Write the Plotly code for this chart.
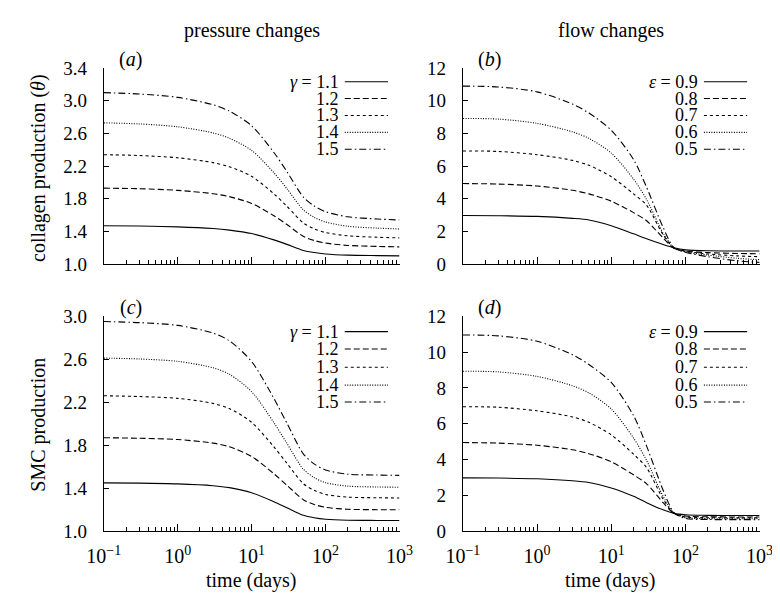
import plotly.graph_objects as go

W, H = 780, 598
FONT = "Liberation Serif"

# ---------------- data ----------------
time_days = [0.1, 0.3, 1, 3, 5, 10, 20, 30, 50, 70, 100, 200, 500, 1000]

gamma_labels = ["1.1", "1.2", "1.3", "1.4", "1.5"]
eps_labels = ["0.9", "0.8", "0.7", "0.6", "0.5"]

# (a) collagen production, pressure changes
coll_g11 = [1.47, 1.466, 1.456, 1.435, 1.416, 1.374, 1.296, 1.241, 1.167, 1.141, 1.124, 1.109, 1.103, 1.10]
coll_g12 = [1.93, 1.923, 1.903, 1.862, 1.826, 1.743, 1.592, 1.484, 1.340, 1.289, 1.257, 1.228, 1.216, 1.21]
coll_g13 = [2.34, 2.33, 2.302, 2.243, 2.192, 2.075, 1.861, 1.708, 1.504, 1.432, 1.386, 1.346, 1.328, 1.32]
coll_g14 = [2.73, 2.717, 2.682, 2.607, 2.542, 2.392, 2.119, 1.924, 1.664, 1.573, 1.515, 1.463, 1.44, 1.43]
coll_g15 = [3.10, 3.084, 3.042, 2.952, 2.874, 2.694, 2.367, 2.133, 1.821, 1.712, 1.641, 1.579, 1.552, 1.54]

# (b) collagen production, flow changes
coll_e09 = [2.97, 2.96, 2.92, 2.8, 2.7, 2.35, 1.85, 1.55, 1.2, 1.0, 0.87, 0.81, 0.8, 0.8]
coll_e08 = [4.93, 4.9, 4.78, 4.52, 4.3, 3.85, 3.15, 2.65, 1.6, 0.97, 0.8, 0.7, 0.65, 0.63]
coll_e07 = [6.93, 6.9, 6.7, 6.35, 6.05, 5.35, 4.3, 3.6, 1.8, 0.98, 0.78, 0.62, 0.5, 0.45]
coll_e06 = [8.92, 8.88, 8.62, 8.1, 7.7, 6.8, 5.2, 3.95, 1.9, 1.0, 0.75, 0.55, 0.35, 0.27]
coll_e05 = [10.9, 10.85, 10.55, 9.8, 9.25, 8.2, 6.4, 4.7, 2.25, 1.0, 0.72, 0.45, 0.2, 0.1]

# (c) SMC production, pressure changes
smc_g11 = [1.45, 1.448, 1.441, 1.424, 1.406, 1.359, 1.275, 1.219, 1.149, 1.126, 1.112, 1.103, 1.101, 1.10]
smc_g12 = [1.87, 1.865, 1.853, 1.82, 1.786, 1.696, 1.535, 1.428, 1.294, 1.25, 1.223, 1.205, 1.201, 1.20]
smc_g13 = [2.26, 2.253, 2.236, 2.189, 2.141, 2.013, 1.785, 1.633, 1.443, 1.381, 1.343, 1.318, 1.312, 1.31]
smc_g14 = [2.61, 2.602, 2.58, 2.52, 2.46, 2.298, 2.01, 1.818, 1.578, 1.5, 1.452, 1.42, 1.412, 1.41]
smc_g15 = [2.95, 2.94, 2.914, 2.843, 2.771, 2.578, 2.235, 2.006, 1.72, 1.627, 1.57, 1.531, 1.523, 1.52]

# (d) SMC production, flow changes
smc_e09 = [2.98, 2.97, 2.93, 2.82, 2.72, 2.42, 1.95, 1.6, 1.2, 1.0, 0.92, 0.89, 0.88, 0.88]
smc_e08 = [4.95, 4.92, 4.8, 4.55, 4.33, 3.88, 3.15, 2.65, 1.6, 1.0, 0.85, 0.81, 0.8, 0.8]
smc_e07 = [6.95, 6.92, 6.72, 6.38, 6.08, 5.38, 4.3, 3.55, 1.8, 1.0, 0.8, 0.76, 0.75, 0.75]
smc_e06 = [8.93, 8.89, 8.64, 8.12, 7.72, 6.82, 5.2, 3.95, 1.95, 1.02, 0.76, 0.71, 0.7, 0.7]
smc_e05 = [10.95, 10.9, 10.6, 9.85, 9.3, 8.3, 6.45, 4.75, 2.3, 1.05, 0.72, 0.66, 0.65, 0.65]

x_tickvals = [0.1, 1, 10, 100, 1000]
x_ticktext = ["10<sup>\u22121</sup>", "10<sup>0</sup>", "10<sup>1</sup>", "10<sup>2</sup>", "10<sup>3</sup>"]
y_ticks_a = [1.0, 1.4, 1.8, 2.2, 2.6, 3.0, 3.4]
y_ticks_c = [1.0, 1.4, 1.8, 2.2, 2.6, 3.0]
y_ticks_bd = [0, 2, 4, 6, 8, 10, 12]

# ---------------- styles / layout ----------------
DASHES = ["solid", "6px,3px", "3px,3px", "1px,1.5px", "7px,3px,1.5px,3px"]


def fx(px):
    return px / W


def fy(py):
    return 1 - py / H


panels = [
    dict(series=[coll_g11, coll_g12, coll_g13, coll_g14, coll_g15], x0=82, x1=390, y0=52, y1=255,
         yr=[1.0, 3.4], yt=y_ticks_a, fmt=".1f", labels=gamma_labels, sym="\u03b3", lx=328, rows=[66, 83.5, 101, 118.5, 136], tag="a"),
    dict(series=[coll_e09, coll_e08, coll_e07, coll_e06, coll_e05], x0=456, x1=765, y0=52, y1=255,
         yr=[0, 12], yt=y_ticks_bd, fmt="d", labels=eps_labels, sym="\u03b5", lx=702, rows=[66, 83.5, 101, 118.5, 136], tag="b"),
    dict(series=[smc_g11, smc_g12, smc_g13, smc_g14, smc_g15], x0=82, x1=390, y0=309, y1=532,
         yr=[1.0, 3.0], yt=y_ticks_c, fmt=".1f", labels=gamma_labels, sym="\u03b3", lx=328, rows=[325, 343, 362, 380.5, 398], tag="c"),
    dict(series=[smc_e09, smc_e08, smc_e07, smc_e06, smc_e05], x0=456, x1=765, y0=309, y1=532,
         yr=[0, 12], yt=y_ticks_bd, fmt="d", labels=eps_labels, sym="\u03b5", lx=702, rows=[325, 343, 362, 380.5, 398], tag="d"),
]

fig = go.Figure()
annotations = []
shapes = []
layout_axes = {}

minor_vals = [k * 10 ** e for e in range(-1, 3) for k in range(2, 10)]

for i, p in enumerate(panels, start=1):
    xa = "x" if i == 1 else f"x{i}"
    ya = "y" if i == 1 else f"y{i}"
    for s, dash in zip(p["series"], DASHES):
        fig.add_trace(go.Scatter(x=time_days, y=s, mode="lines", xaxis=xa, yaxis=ya,
                                 line=dict(color="black", width=1.1, dash=dash, shape="spline", smoothing=0.8),
                                 showlegend=False, hoverinfo="skip"))
    show_xlabels = i >= 3
    layout_axes["xaxis" if i == 1 else f"xaxis{i}"] = dict(
        domain=[fx(p["x0"]), fx(p["x1"])], anchor=ya, type="log", range=[-1, 3],
        tickmode="array", tickvals=x_tickvals, ticktext=x_ticktext, showticklabels=show_xlabels,
        ticks="inside", ticklen=7, tickwidth=1, tickcolor="black",
        minor=dict(tickmode="array", tickvals=minor_vals, ticks="inside", ticklen=4, tickwidth=1, tickcolor="black", showgrid=False),
        showline=True, linecolor="black", linewidth=1, showgrid=False, zeroline=False,
        tickfont=dict(family=FONT, size=20, color="black"), ticklabelstandoff=7,
    )
    layout_axes["yaxis" if i == 1 else f"yaxis{i}"] = dict(
        domain=[fy(p["y1"]), fy(p["y0"])], anchor=xa, range=p["yr"],
        tickmode="array", tickvals=p["yt"], tickformat=p["fmt"],
        ticks="inside", ticklen=5, tickwidth=1, tickcolor="black",
        showline=True, linecolor="black", linewidth=1, showgrid=False, zeroline=False,
        tickfont=dict(family=FONT, size=19, color="black"), ticklabelstandoff=12,
    )
    # panel tag
    annotations.append(dict(text=f"(<i>{p['tag']}</i>)", x=fx(p["x0"] + 28), y=fy(p["y0"] - 9),
                            xref="paper", yref="paper", showarrow=False, xanchor="center", yanchor="middle",
                            font=dict(family=FONT, size=20, color="black")))
    # legend
    for k, (lab, dash) in enumerate(zip(p["labels"], DASHES)):
        txt = (f"<i>{p['sym']}</i> = " if k == 0 else "") + lab
        annotations.append(dict(text=txt, x=fx(p["lx"]), y=fy(p["rows"][k]), xref="paper", yref="paper",
                                showarrow=False, xanchor="right", yanchor="middle", borderpad=0,
                                font=dict(family=FONT, size=18, color="black")))
        shapes.append(dict(type="line", xref="paper", yref="paper",
                           x0=fx(p["lx"] + 5), x1=fx(p["lx"] + 50), y0=fy(p["rows"][k]), y1=fy(p["rows"][k]),
                           line=dict(color="black", width=1.1, dash=dash)))

# column headings / axis titles
annotations += [
    dict(text="pressure changes", x=fx(236), y=fy(13)),
    dict(text="flow changes", x=fx(610), y=fy(13)),
    dict(text="time (days)", x=fx(236), y=fy(583)),
    dict(text="time (days)", x=fx(610), y=fy(583)),
    dict(text="collagen production (<i>\u03b8</i>)", x=fx(14), y=fy(155), textangle=-90),
    dict(text="SMC production", x=fx(14), y=fy(421), textangle=-90),
]
for a in annotations[-6:]:
    a.update(xref="paper", yref="paper", showarrow=False, xanchor="center", yanchor="middle",
             font=dict(family=FONT, size=20, color="black"))

fig.update_layout(
    width=W, height=H, margin=dict(l=0, r=0, t=0, b=0),
    paper_bgcolor="white", plot_bgcolor="white",
    font=dict(family=FONT, color="black"),
    annotations=annotations, shapes=shapes, showlegend=False,
    **layout_axes,
)

fig.write_html("out.html")
